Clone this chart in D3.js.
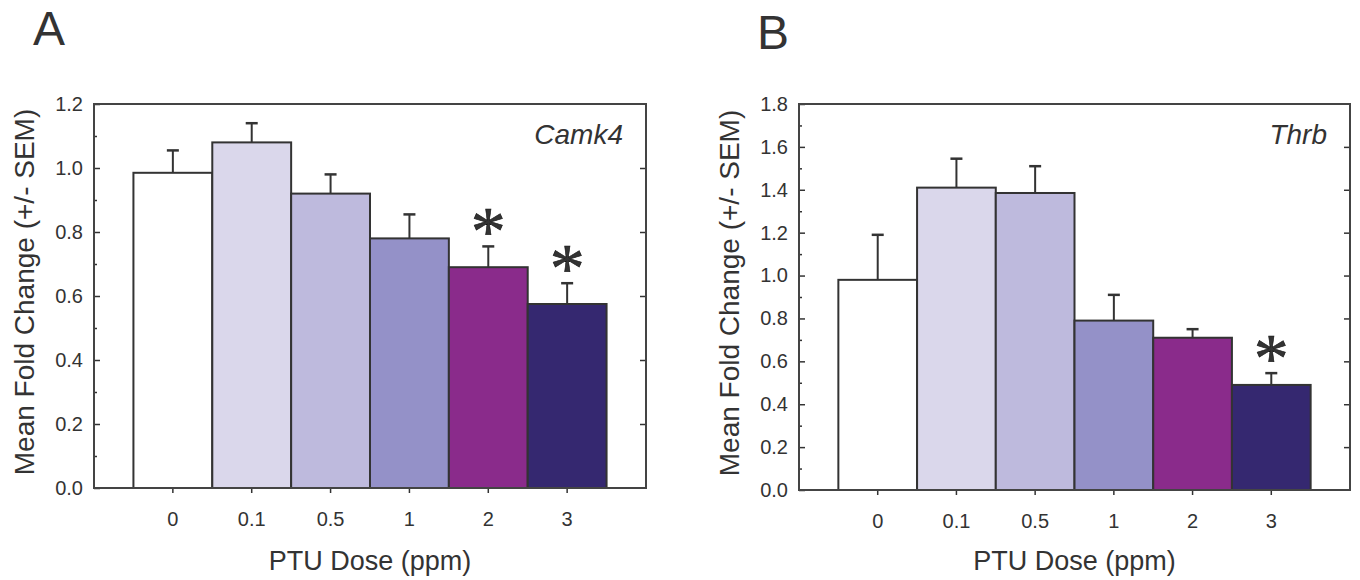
<!DOCTYPE html>
<html>
<head>
<meta charset="utf-8">
<script src="https://cdn.jsdelivr.net/npm/d3@7"></script>
<style>
  html, body { margin: 0; padding: 0; background: #ffffff; }
  svg { display: block; }
  text { font-family: "Liberation Sans", Arial, sans-serif; fill: #333333; }
</style>
</head>
<body>
<svg id="chart" width="1360" height="580"></svg>
<script>
// PTU dose groups (ppm)
const doses = ["0", "0.1", "0.5", "1", "2", "3"];

// Camk4: mean fold change and SEM per dose
const camk4Mean = [0.985, 1.08, 0.92, 0.78, 0.69, 0.575];
const camk4Sem  = [0.07, 0.06, 0.06, 0.075, 0.065, 0.065];
const camk4Sig  = [false, false, false, false, true, true];
const camk4Ticks = [0, 0.2, 0.4, 0.6, 0.8, 1.0, 1.2];

// Thrb: mean fold change and SEM per dose
const thrbMean = [0.98, 1.41, 1.385, 0.79, 0.71, 0.49];
const thrbSem  = [0.21, 0.135, 0.125, 0.12, 0.04, 0.055];
const thrbSig  = [false, false, false, false, false, true];
const thrbTicks = [0, 0.2, 0.4, 0.6, 0.8, 1.0, 1.2, 1.4, 1.6, 1.8];

// fill per dose group
const barColors = ["#ffffff", "#dad7eb", "#bebadd", "#9491c8", "#8a2b8b", "#352870"];

const svg = d3.select("#chart");
const ink = "#333333";
const fmt = d3.format(".1f");

function drawPanel(cfg) {
  const g = svg.append("g");
  const { left, right, top, bottom } = cfg.box;

  const x = d3.scaleBand().domain(doses).range([left, right])
    .paddingInner(0).paddingOuter(0.5);
  const yMax = cfg.ticks[cfg.ticks.length - 1];
  const y = d3.scaleLinear().domain([0, yMax]).range([bottom, top]);

  // minor ticks halfway between major ones
  const minor = d3.range(0, cfg.ticks.length - 1).map(i => (cfg.ticks[i] + cfg.ticks[i + 1]) / 2);

  // left axis: major ticks with labels, pointing inward
  const yAxis = g.append("g").attr("transform", `translate(${left},0)`)
    .call(d3.axisLeft(y).tickValues(cfg.ticks).tickFormat(fmt).tickSize(-6).tickPadding(11));
  yAxis.select(".domain").remove();
  yAxis.selectAll("line").attr("stroke", ink).attr("stroke-width", 1.5);
  yAxis.selectAll("text").attr("font-size", 20).attr("fill", ink)
    .style("font-family", '"Liberation Sans", Arial, sans-serif');

  const yMinor = g.append("g").attr("transform", `translate(${left},0)`)
    .call(d3.axisLeft(y).tickValues(minor).tickFormat("").tickSize(-3));
  yMinor.select(".domain").remove();
  yMinor.selectAll("line").attr("stroke", ink).attr("stroke-width", 1.5);

  // right axis: inward major ticks, no labels
  const yRight = g.append("g").attr("transform", `translate(${right},0)`)
    .call(d3.axisRight(y).tickValues(cfg.ticks.slice(1, -1)).tickFormat("").tickSize(-6));
  yRight.select(".domain").remove();
  yRight.selectAll("line").attr("stroke", ink).attr("stroke-width", 1.5);

  // bottom axis: outward ticks at each dose
  const xAxis = g.append("g").attr("transform", `translate(0,${bottom})`)
    .call(d3.axisBottom(x).tickSize(5).tickPadding(19));
  xAxis.select(".domain").remove();
  xAxis.selectAll("line").attr("stroke", ink).attr("stroke-width", 1.5);
  xAxis.selectAll("text").attr("font-size", 20).attr("fill", ink)
    .style("font-family", '"Liberation Sans", Arial, sans-serif');

  const rows = doses.map((d, i) => ({ dose: d, mean: cfg.mean[i], sem: cfg.sem[i], sig: cfg.sig[i], color: barColors[i] }));

  // error bars (upper half only)
  const err = g.append("g").attr("stroke", ink).attr("stroke-width", 2);
  err.selectAll("line.stem").data(rows).join("line").attr("class", "stem")
    .attr("x1", d => x(d.dose) + x.bandwidth() / 2)
    .attr("x2", d => x(d.dose) + x.bandwidth() / 2)
    .attr("y1", d => y(d.mean))
    .attr("y2", d => y(d.mean + d.sem));
  err.selectAll("line.cap").data(rows).join("line").attr("class", "cap")
    .attr("x1", d => x(d.dose) + x.bandwidth() / 2 - 6)
    .attr("x2", d => x(d.dose) + x.bandwidth() / 2 + 6)
    .attr("y1", d => y(d.mean + d.sem))
    .attr("y2", d => y(d.mean + d.sem))
    .attr("stroke-width", 2.5);

  // bars
  g.append("g").selectAll("rect").data(rows).join("rect")
    .attr("x", d => x(d.dose))
    .attr("y", d => y(d.mean))
    .attr("width", x.bandwidth())
    .attr("height", d => y(0) - y(d.mean))
    .attr("fill", d => d.color)
    .attr("stroke", ink)
    .attr("stroke-width", 2);

  // significance markers
  g.append("g").selectAll("text").data(rows.filter(d => d.sig)).join("text")
    .attr("x", d => x(d.dose) + x.bandwidth() / 2)
    .attr("y", d => y(d.mean + d.sem) + 9)
    .attr("text-anchor", "middle")
    .attr("font-size", 70)
    .style("font-family", '"Liberation Serif", "Times New Roman", serif')
    .attr("fill", "#111111")
    .attr("stroke", "#111111")
    .attr("stroke-width", 0.6)
    .text("*");

  // frame
  g.append("rect")
    .attr("x", left).attr("y", top)
    .attr("width", right - left).attr("height", bottom - top)
    .attr("fill", "none").attr("stroke", "#444444").attr("stroke-width", 2);

  // gene name
  g.append("text")
    .attr("x", right - 23).attr("y", top + 40)
    .attr("text-anchor", "end")
    .attr("font-size", 28)
    .attr("font-style", "italic")
    .text(cfg.gene);

  // axis titles
  g.append("text")
    .attr("x", (left + right) / 2).attr("y", 570)
    .attr("text-anchor", "middle")
    .attr("font-size", 27)
    .text("PTU Dose (ppm)");

  g.append("text")
    .attr("transform", `translate(${cfg.yTitleX},${(top + bottom) / 2 - 4}) rotate(-90)`)
    .attr("text-anchor", "middle")
    .attr("font-size", 28)
    .text("Mean Fold Change (+/- SEM)");

  // panel letter
  g.append("text")
    .attr("x", cfg.letterX).attr("y", cfg.letterY)
    .attr("font-size", 48)
    .attr("fill", "#222222")
    .text(cfg.letter);
}

drawPanel({
  box: { left: 94, right: 646, top: 104, bottom: 488 },
  ticks: camk4Ticks, mean: camk4Mean, sem: camk4Sem, sig: camk4Sig,
  gene: "Camk4", letter: "A", letterX: 33, letterY: 45, yTitleX: 34
});

drawPanel({
  box: { left: 799, right: 1350, top: 104, bottom: 490 },
  ticks: thrbTicks, mean: thrbMean, sem: thrbSem, sig: thrbSig,
  gene: "Thrb", letter: "B", letterX: 757, letterY: 49, yTitleX: 739
});
</script>
</body>
</html>
